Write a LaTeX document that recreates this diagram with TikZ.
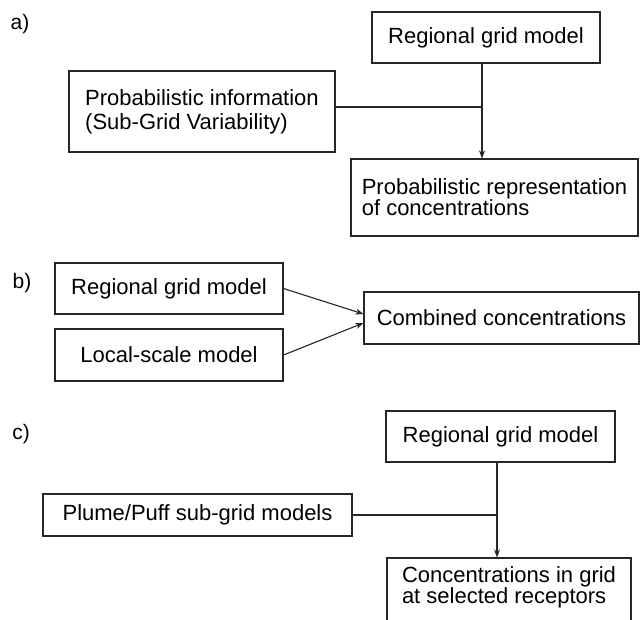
\documentclass[tikz,border=0pt]{standalone}
\usepackage{fontspec}
\setmainfont{Liberation Sans}
\usetikzlibrary{arrows.meta}
\begin{document}
\begin{tikzpicture}[x=1pt,y=-1pt,
  box/.style={draw=black!85, line width=1.1pt, inner sep=0pt, align=left,
    font=\fontsize{22}{24}\selectfont},
  txt/.style={inner sep=0pt, align=left},
  lbl/.style={font=\fontsize{21}{24}\selectfont, inner sep=0pt},
  conn/.style={draw=black!85, line width=1.1pt},
  arr/.style={conn, -{Stealth[length=8pt,width=6pt]}}]
\fill[white] (0,0) rectangle (640,619);
\useasboundingbox (0,0) rectangle (640,619);
% a)
\node[lbl] (la) at (20,24) {a)};
\node[box, minimum width=228pt, minimum height=51pt] (A1) at (486,37.5) {Regional grid model};
\node[box, minimum width=266pt, minimum height=81pt] (A2) at (202,111.5) {Probabilistic information\\(Sub-Grid Variability)};
\node[box, minimum width=287pt, minimum height=77pt, font=\fontsize{22}{21}\selectfont] (A3) at (494.5,197.5) {Probabilistic representation\\of concentrations};
\coordinate (ja) at (482,107);
\draw[conn] (A1.south -| ja) -- (ja);
\draw[conn] (A2.east |- ja) -- (ja);
\draw[arr] (ja) -- (ja |- A3.north);
% b)
\node[lbl] (lb) at (22,283) {b)};
\node[box, minimum width=228pt, minimum height=51pt] (B1) at (169,288.5) {Regional grid model};
\node[box, minimum width=228pt, minimum height=52pt] (B2) at (169,355) {Local-scale model};
\node[box, minimum width=275pt, minimum height=52pt] (B3) at (501.5,318) {Combined concentrations};
\draw[arr] (B1.east) -- ([yshift=4pt]B3.west);
\draw[arr] (B2.east) -- ([yshift=-5pt]B3.west);
% c)
\node[lbl] (lc) at (21,434) {c)};
\node[box, minimum width=229pt, minimum height=51pt] (C1) at (500.5,436.5) {Regional grid model};
\node[box, minimum width=309pt, minimum height=42pt] (C2) at (197.5,515) {Plume/Puff sub-grid models};
\node[box, minimum width=244pt, minimum height=66pt] (C3) at (509,591) {};
\node[txt, font=\fontsize{22}{20}\selectfont] (C3t) at (509,587.5) {Concentrations in grid\\at selected receptors};
\coordinate (jc) at (497,515);
\draw[conn] (C1.south -| jc) -- (jc);
\draw[conn] (C2.east) -- (jc);
\draw[arr] (jc) -- (jc |- C3.north);
\end{tikzpicture}
\end{document}
